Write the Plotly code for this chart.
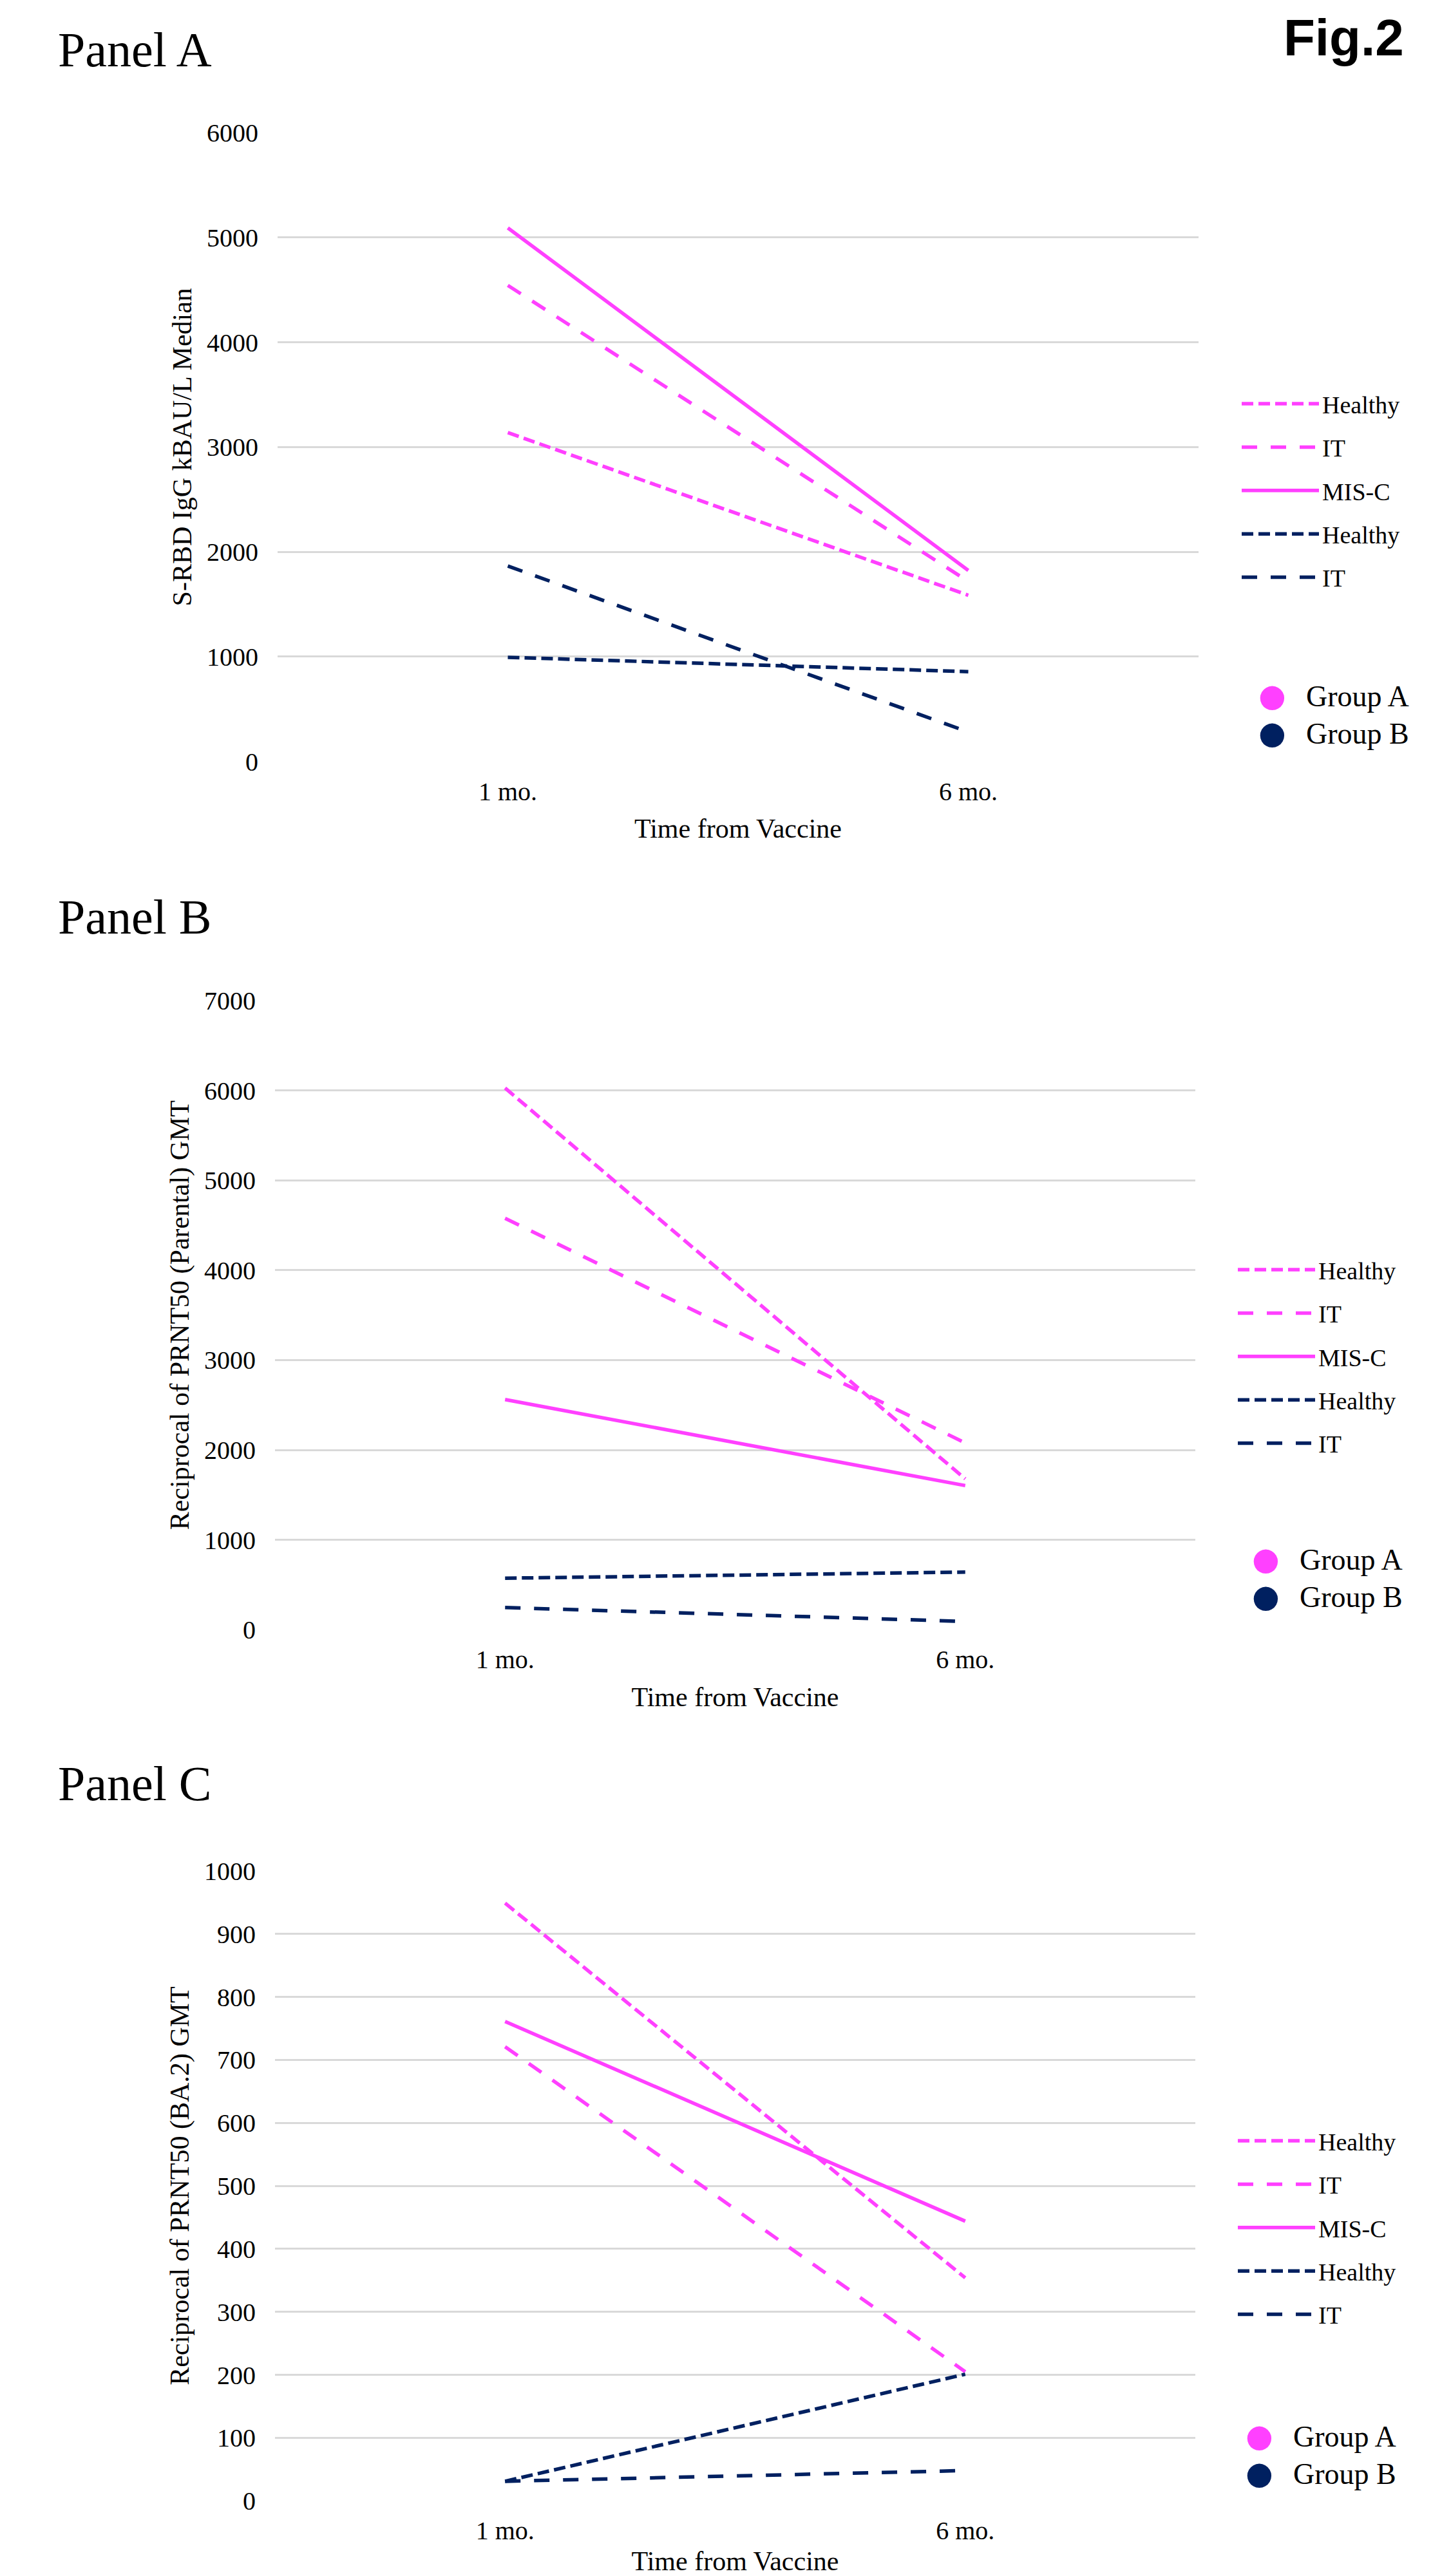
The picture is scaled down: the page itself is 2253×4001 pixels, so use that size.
import plotly.graph_objects as go

# ---------------- data ----------------
timepoints = ["1 mo.", "6 mo."]

series_names = ["Healthy", "IT", "MIS-C", "Healthy", "IT"]
series_group = ["A", "A", "A", "B", "B"]

# Panel A: S-RBD IgG kBAU/L median
panelA_groupA_healthy = [3137, 1585]
panelA_groupA_it = [4542, 1717]
panelA_groupA_misc = [5091, 1822]
panelA_groupB_healthy = [993, 856]
panelA_groupB_it = [1864, 280]

# Panel B: reciprocal PRNT50 (Parental) GMT
panelB_groupA_healthy = [6026, 1678]
panelB_groupA_it = [4577, 2078]
panelB_groupA_misc = [2560, 1603]
panelB_groupB_healthy = [573, 641]
panelB_groupB_it = [246, 92]

# Panel C: reciprocal PRNT50 (BA.2) GMT
panelC_groupA_healthy = [949, 354]
panelC_groupA_it = [721, 205]
panelC_groupA_misc = [761, 444]
panelC_groupB_healthy = [31, 201]
panelC_groupB_it = [31, 48]

group_labels = ["Group A", "Group B"]

panel_titles = ["Panel A", "Panel B", "Panel C"]
y_titles = ["S-RBD IgG kBAU/L Median",
            "Reciprocal of PRNT50 (Parental) GMT",
            "Reciprocal of PRNT50 (BA.2) GMT"]
x_title = "Time from Vaccine"
y_max = [6000, 7000, 1000]
y_step = [1000, 1000, 100]

panel_series = [
    [panelA_groupA_healthy, panelA_groupA_it, panelA_groupA_misc, panelA_groupB_healthy, panelA_groupB_it],
    [panelB_groupA_healthy, panelB_groupA_it, panelB_groupA_misc, panelB_groupB_healthy, panelB_groupB_it],
    [panelC_groupA_healthy, panelC_groupA_it, panelC_groupA_misc, panelC_groupB_healthy, panelC_groupB_it],
]

# ---------------- style ----------------
W, H = 2253, 4001
PINK = "#FF40FF"
NAVY = "#002060"
GRID = "#D9D9D9"
SERIF = "Liberation Serif, Times New Roman, serif"
group_color = {"A": PINK, "B": NAVY}
dash_for = {"Healthy": "18px,8px", "IT": "24px,21px", "MIS-C": "solid"}

# pixel layout per panel (plot area)
plot_x = [(431, 1861), (427, 1856), (427, 1856)]
plot_y = [(206, 1182.5), (1554, 2531.2), (2906, 3884.2)]
title_y = [77, 1424, 2770]
legend_first_row = [627, 1972, 3325]
legend_line_x = [1928, 1922, 1922]
group_first_row = [1081, 2422, 3784]
group_circle_left = [1954, 1944, 1934]


def px_x(v):
    return v / W


def px_y(v):
    return 1 - v / H


fig = go.Figure()
layout = dict(
    width=W, height=H, autosize=False,
    margin=dict(l=0, r=0, t=0, b=0),
    paper_bgcolor="white", plot_bgcolor="white",
    font=dict(family=SERIF, color="black"),
    annotations=[],
)

for p in range(3):
    sfx = "" if p == 0 else str(p + 1)
    xa, ya = "x" + sfx, "y" + sfx
    leg_lines = "legend" if p == 0 else "legend" + str(2 * p + 1)
    leg_groups = "legend" + str(2 * p + 2)

    for i, vals in enumerate(panel_series[p]):
        g = series_group[i]
        fig.add_trace(go.Scatter(
            x=timepoints, y=vals, mode="lines",
            name=series_names[i],
            line=dict(color=group_color[g], width=5.5, dash=dash_for[series_names[i]]),
            xaxis=xa, yaxis=ya,
            legend=leg_lines, legendgroup=f"p{p}s{i}",
            hoverinfo="x+y+name",
        ))

    for j, lab in enumerate(group_labels):
        col = PINK if j == 0 else NAVY
        name = (f"<span style='font-family:DejaVu Sans;font-size:49px;color:{col}'>●\u00a0\u00a0</span>"
                f"<span style='font-size:46px'>{lab}</span>")
        fig.add_trace(go.Scatter(
            x=[None], y=[None], mode="markers", name=name,
            marker=dict(color="rgba(0,0,0,0)", size=2),
            xaxis=xa, yaxis=ya, legend=leg_groups, legendgroup=f"p{p}g{j}",
            showlegend=True,
        ))

    x0, x1 = plot_x[p]
    y0, y1 = plot_y[p]
    layout["xaxis" + sfx] = dict(
        domain=[px_x(x0), px_x(x1)], anchor=ya,
        type="category", categoryorder="array", categoryarray=timepoints,
        range=[-0.5, 1.5], showgrid=False, zeroline=False, showline=False,
        ticks="", tickfont=dict(family=SERIF, size=40, color="black"),
        ticklabelstandoff=19,
        title=dict(text=x_title, font=dict(family=SERIF, size=42, color="black"), standoff=21),
        automargin=False, fixedrange=True,
    )
    layout["yaxis" + sfx] = dict(
        domain=[px_y(y1), px_y(y0)], anchor=xa,
        range=[0, y_max[p]], tick0=0, dtick=y_step[p],
        showgrid=True, gridcolor=GRID, gridwidth=3,
        zeroline=False, showline=False, ticks="",
        tickfont=dict(family=SERIF, size=40, color="black"),
        ticklabelstandoff=29,
        title=dict(text=y_titles[p], font=dict(family=SERIF, size=42, color="black"), standoff=10),
        automargin=False, fixedrange=True,
    )

    layout[leg_lines] = dict(
        x=px_x(legend_line_x[p] - 5), y=px_y(legend_first_row[p] - 31.2),
        xanchor="left", yanchor="top",
        font=dict(family=SERIF, size=38, color="black"),
        itemwidth=120, tracegroupgap=15, traceorder="grouped",
        bgcolor="rgba(0,0,0,0)", borderwidth=0,
    )
    layout[leg_groups] = dict(
        x=px_x(group_circle_left[p] - 40), y=px_y(group_first_row[p] - 33.8),
        xanchor="left", yanchor="top",
        font=dict(family=SERIF, size=42, color="black"),
        itemwidth=30, tracegroupgap=0, traceorder="grouped",
        bgcolor="rgba(0,0,0,0)", borderwidth=0,
    )

    layout["annotations"].append(dict(
        text=panel_titles[p], xref="paper", yref="paper",
        x=px_x(88), y=px_y(title_y[p]), xanchor="left", yanchor="middle",
        showarrow=False, font=dict(family=SERIF, size=76, color="black"),
    ))

layout["annotations"].append(dict(
    text="<b>Fig.2</b>", xref="paper", yref="paper",
    x=px_x(2182), y=px_y(59), xanchor="right", yanchor="middle",
    showarrow=False, font=dict(family="Liberation Sans, Arial, sans-serif", size=80, color="black"),
))

fig.update_layout(**layout)

fig.write_html("out.html", config={"displayModeBar": False},
               post_script="document.body.style.margin='0';document.body.style.overflow='hidden';")
